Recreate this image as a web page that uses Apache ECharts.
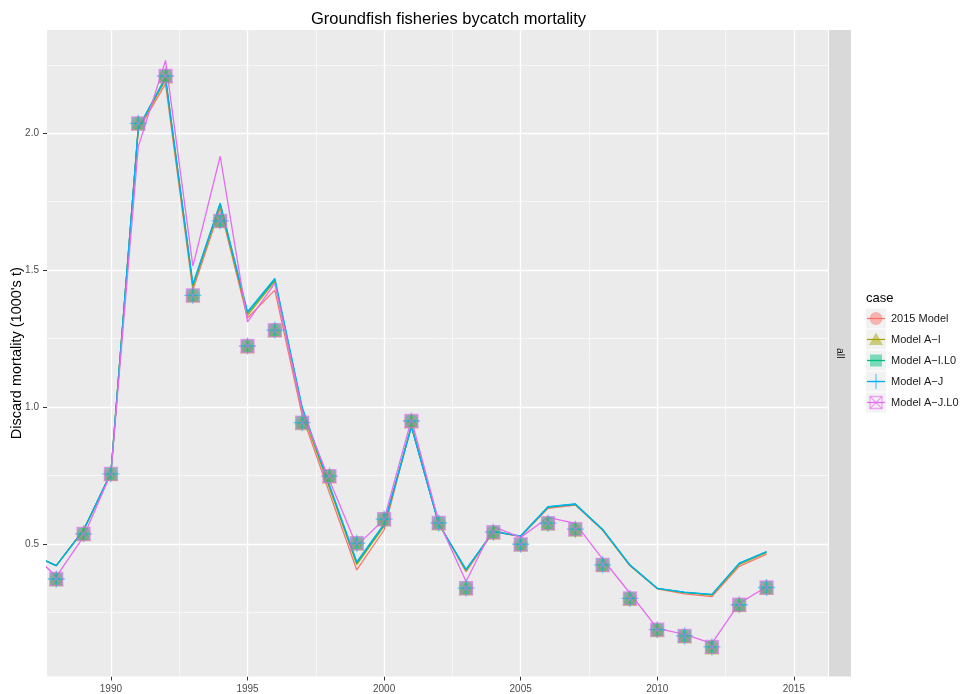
<!DOCTYPE html>
<html>
<head>
<meta charset="utf-8">
<title>Groundfish fisheries bycatch mortality</title>
<script src="https://cdn.jsdelivr.net/npm/echarts@6/dist/echarts.min.js"></script>
<style>
  html, body { margin: 0; padding: 0; background: #ffffff; }
  #chart { width: 960px; height: 694px; }
</style>
</head>
<body>
<div id="chart"></div>
<script>
// Model-estimated discard mortality (1000's t), one value per year
const modelYears = [1987, 1988, 1989, 1990, 1991, 1992, 1993, 1994, 1995, 1996, 1997, 1998, 1999, 2000,
                    2001, 2002, 2003, 2004, 2005, 2006, 2007, 2008, 2009, 2010, 2011, 2012, 2013, 2014];

const model2015 = [0.465, 0.421, 0.551, 0.759, 2.011, 2.180, 1.427, 1.726, 1.325, 1.427, 0.970, 0.686, 0.405, 0.551,
                   0.934, 0.575, 0.399, 0.545, 0.527, 0.630, 0.642, 0.550, 0.420, 0.336, 0.318, 0.308, 0.418, 0.463];
const modelAI   = [0.465, 0.421, 0.551, 0.759, 2.015, 2.195, 1.440, 1.738, 1.335, 1.460, 0.985, 0.705, 0.425, 0.565,
                   0.930, 0.574, 0.403, 0.546, 0.528, 0.634, 0.645, 0.552, 0.422, 0.337, 0.322, 0.313, 0.425, 0.469];
const modelAIL0 = [0.465, 0.421, 0.551, 0.759, 2.018, 2.205, 1.445, 1.742, 1.343, 1.465, 0.995, 0.712, 0.430, 0.570,
                   0.929, 0.573, 0.405, 0.547, 0.529, 0.635, 0.645, 0.553, 0.423, 0.338, 0.323, 0.315, 0.428, 0.471];
const modelAJ   = [0.465, 0.421, 0.551, 0.759, 2.020, 2.200, 1.449, 1.745, 1.348, 1.470, 1.000, 0.715, 0.435, 0.573,
                   0.928, 0.573, 0.407, 0.545, 0.529, 0.636, 0.646, 0.553, 0.423, 0.338, 0.324, 0.316, 0.430, 0.472];
const modelAJL0 = [0.476, 0.381, 0.527, 0.757, 1.950, 2.266, 1.515, 1.916, 1.311, 1.452, 0.985, 0.733, 0.493, 0.590,
                   0.955, 0.582, 0.363, 0.563, 0.524, 0.597, 0.575, 0.445, 0.320, 0.192, 0.170, 0.137, 0.283, 0.344];

// Observed discard mortality, shared by every case
const obsYears = [1988, 1989, 1990, 1991, 1992, 1993, 1994, 1995, 1996, 1997, 1998, 1999, 2000, 2001,
                  2002, 2003, 2004, 2005, 2006, 2007, 2008, 2009, 2010, 2011, 2012, 2013, 2014];
const observed = [0.372, 0.537, 0.756, 2.036, 2.209, 1.408, 1.680, 1.223, 1.281, 0.943, 0.748, 0.503, 0.591, 0.949,
                  0.577, 0.339, 0.543, 0.499, 0.576, 0.554, 0.424, 0.301, 0.187, 0.164, 0.124, 0.278, 0.341];

const caseNames = ['2015 Model', 'Model A\u2212I', 'Model A\u2212I.L0', 'Model A\u2212J', 'Model A\u2212J.L0'];
const caseValues = [model2015, modelAI, modelAIL0, modelAJ, modelAJL0];

// major and minor break positions
const xTicks = [1990, 1995, 2000, 2005, 2010, 2015];
const xMinor = [1992.5, 1997.5, 2002.5, 2007.5, 2012.5];
const yTicks = [0.5, 1.0, 1.5, 2.0];
const yMinor = [0.25, 0.75, 1.25, 1.75, 2.25];

// ggplot-style hue palette and point shapes
const colors = ['#F8766D', '#A3A500', '#00BF7D', '#00B0F6', '#E76BF3'];
const FONT = 'Liberation Sans, Arial, Helvetica, sans-serif';

const plusPath = 'path://M5,0L5,10M0,5L10,5';
const boxCrossPath = 'path://M0,0L10,0L10,10L0,10ZM0,0L10,10M10,0L0,10';
const pointStyles = [
  { symbol: 'circle',   size: 14, filled: true },
  { symbol: 'triangle', size: 15, filled: true },
  { symbol: 'rect',     size: 13, filled: true },
  { symbol: plusPath,   size: 17, filled: false },
  { symbol: boxCrossPath, size: 13, filled: false }
];

const X_MIN = 1987.66, X_MAX = 2016.25;
const Y_MIN = 0.016, Y_MAX = 2.377;

const panel = { left: 47, top: 30, width: 781, height: 646.5 };

const pair = (xs, ys) => xs.map((x, i) => [x, ys[i]]);

// white panel grid, placed on the axes' own scales
const majorGrid = { color: '#FFFFFF', width: 1.3, type: 'solid' };
const minorGrid = { color: '#FFFFFF', width: 0.6, type: 'solid' };
const gridLines = [].concat(
  xMinor.map(v => ({ xAxis: v, lineStyle: minorGrid })),
  yMinor.map(v => ({ yAxis: v, lineStyle: minorGrid })),
  xTicks.map(v => ({ xAxis: v, lineStyle: majorGrid })),
  yTicks.map(v => ({ yAxis: v, lineStyle: majorGrid }))
);

const series = [{
  name: 'panel grid',
  type: 'line',
  data: [],
  silent: true,
  z: 1,
  markLine: {
    silent: true,
    animation: false,
    symbol: ['none', 'none'],
    label: { show: false },
    emphasis: { disabled: true },
    z: 1,
    data: gridLines
  }
}];
caseNames.forEach((name, i) => {
  series.push({
    name: name,
    type: 'line',
    data: pair(modelYears, caseValues[i]),
    showSymbol: false,
    symbol: 'none',
    clip: true,
    lineStyle: { color: colors[i], width: 1.3 },
    itemStyle: { color: colors[i] },
    z: 2 + i,
    silent: true
  });
});
caseNames.forEach((name, i) => {
  const ps = pointStyles[i];
  series.push({
    name: name,
    type: 'scatter',
    data: pair(obsYears, observed),
    symbol: ps.symbol,
    symbolSize: ps.size,
    symbolKeepAspect: true,
    itemStyle: ps.filled
      ? { color: colors[i], opacity: 0.5 }
      : { color: 'rgba(0,0,0,0)', borderColor: colors[i], borderWidth: 1.3, opacity: 0.6 },
    z: 10 + i,
    silent: true
  });
});

// Legend key graphics (grey key boxes with line + point glyph)
const keyLeft = 866, keyTop = 308.5, keySize = 20, keyGap = 1;
const keyGraphics = [];
caseNames.forEach((name, i) => {
  const y0 = keyTop + i * (keySize + keyGap);
  const cx = keyLeft + keySize / 2, cy = y0 + keySize / 2;
  const c = colors[i];
  const glyphs = [];
  keyGraphics.push({ type: 'rect', shape: { x: keyLeft, y: y0, width: keySize, height: keySize },
                     style: { fill: '#F2F2F2' }, z: 1, silent: true });
  keyGraphics.push({ type: 'line', shape: { x1: keyLeft + 1, y1: cy, x2: keyLeft + keySize - 1, y2: cy },
                     style: { stroke: c, lineWidth: 1.3 }, z: 2, silent: true });
  if (i === 0) {
    glyphs.push({ type: 'circle', shape: { cx: cx, cy: cy, r: 6.5 }, style: { fill: c, opacity: 0.5 } });
  } else if (i === 1) {
    glyphs.push({ type: 'polygon', shape: { points: [[cx, cy - 7], [cx + 7, cy + 5.5], [cx - 7, cy + 5.5]] },
                  style: { fill: c, opacity: 0.5 } });
  } else if (i === 2) {
    glyphs.push({ type: 'rect', shape: { x: cx - 6, y: cy - 6, width: 12, height: 12 }, style: { fill: c, opacity: 0.5 } });
  } else if (i === 3) {
    glyphs.push({ type: 'line', shape: { x1: cx, y1: cy - 7.5, x2: cx, y2: cy + 7.5 },
                  style: { stroke: c, lineWidth: 1.3, opacity: 0.6 } });
    glyphs.push({ type: 'line', shape: { x1: cx - 7.5, y1: cy, x2: cx + 7.5, y2: cy },
                  style: { stroke: c, lineWidth: 1.3, opacity: 0.6 } });
  } else {
    glyphs.push({ type: 'rect', shape: { x: cx - 6, y: cy - 6, width: 12, height: 12 },
                  style: { fill: 'none', stroke: c, lineWidth: 1.3, opacity: 0.6 } });
    glyphs.push({ type: 'line', shape: { x1: cx - 6, y1: cy - 6, x2: cx + 6, y2: cy + 6 },
                  style: { stroke: c, lineWidth: 1.3, opacity: 0.6 } });
    glyphs.push({ type: 'line', shape: { x1: cx + 6, y1: cy - 6, x2: cx - 6, y2: cy + 6 },
                  style: { stroke: c, lineWidth: 1.3, opacity: 0.6 } });
  }
  glyphs.forEach(g => { g.z = 3; g.silent = true; keyGraphics.push(g); });
});

const chart = echarts.init(document.getElementById('chart'), null, { renderer: 'canvas' });

const option = {
  animation: false,
  backgroundColor: '#ffffff',
  textStyle: { fontFamily: FONT },
  title: {
    text: 'Groundfish fisheries bycatch mortality',
    left: 306,
    top: 6,
    textStyle: { fontFamily: FONT, fontSize: 16.5, fontWeight: 'normal', color: '#000000' }
  },
  grid: {
    left: panel.left, top: panel.top, width: panel.width, height: panel.height,
    show: true, backgroundColor: '#EBEBEB', borderWidth: 0,
    containLabel: false, outerBoundsMode: 'none'
  },
  legend: {
    data: caseNames,
    orient: 'vertical',
    left: keyLeft,
    top: keyTop,
    padding: 0,
    itemWidth: keySize,
    itemHeight: keySize,
    itemGap: keyGap,
    selectedMode: false,
    icon: 'rect',
    itemStyle: { opacity: 0 },
    lineStyle: { opacity: 0 },
    textStyle: { fontFamily: FONT, fontSize: 11, color: '#1A1A1A' }
  },
  xAxis: {
    type: 'value', min: X_MIN, max: X_MAX,
    axisLine: { show: false },
    axisTick: { show: true, length: 4, customValues: xTicks, lineStyle: { color: '#333333', width: 1 } },
    axisLabel: { customValues: xTicks, margin: 8, fontFamily: FONT, fontSize: 10, color: '#4D4D4D',
                 formatter: v => String(Math.round(v)) },
    splitLine: { show: false }
  },
  yAxis: {
    type: 'value', min: Y_MIN, max: Y_MAX,
    name: "Discard mortality (1000's t)",
    nameLocation: 'middle',
    nameRotate: 90,
    nameGap: 23,
    nameMoveOverlap: false,
    nameTextStyle: { fontFamily: FONT, fontSize: 14.5, color: '#000000' },
    axisLine: { show: false },
    axisTick: { show: true, length: 4, customValues: yTicks, lineStyle: { color: '#333333', width: 1 } },
    axisLabel: { customValues: yTicks, margin: 8, fontFamily: FONT, fontSize: 10, color: '#4D4D4D',
                 formatter: v => Number(v).toFixed(1) },
    splitLine: { show: false }
  },
  graphic: [
    // facet strip on the right of the panel
    { type: 'rect', shape: { x: 829, y: panel.top, width: 22, height: panel.height },
      style: { fill: '#D9D9D9' }, silent: true, z: 1 },
    { type: 'text', x: 840, y: panel.top + panel.height / 2, rotation: -Math.PI / 2,
      style: { text: 'all', fontFamily: FONT, fontSize: 10.5, fill: '#1A1A1A', align: 'center', verticalAlign: 'middle' },
      silent: true, z: 2 },
    // legend title
    { type: 'text', x: 866, y: 298,
      style: { text: 'case', fontFamily: FONT, fontSize: 13, fill: '#000000', align: 'left', verticalAlign: 'middle' },
      silent: true, z: 2 }
  ].concat(keyGraphics),
  series: series
};

chart.setOption(option);
</script>
</body>
</html>
